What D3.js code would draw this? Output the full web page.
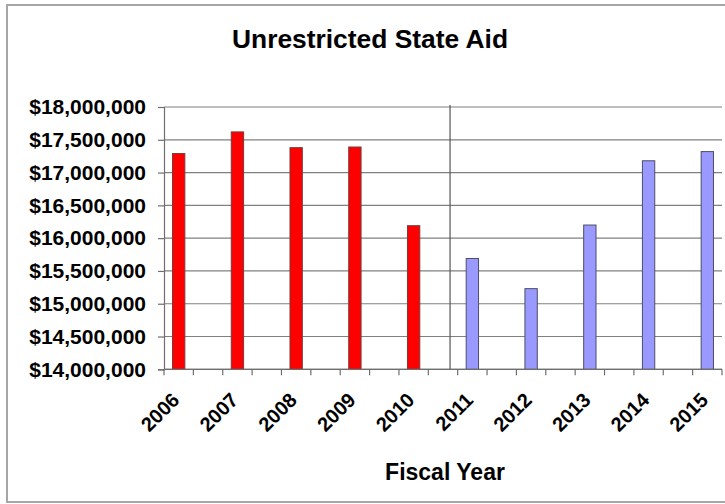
<!DOCTYPE html>
<html>
<head>
<meta charset="utf-8">
<script src="https://cdn.jsdelivr.net/npm/d3@7"></script>
<style>
  html, body { margin: 0; padding: 0; background: #fff; }
  svg { display: block; }
  text { font-family: "Liberation Sans", Arial, sans-serif; font-weight: bold; fill: #000; }
</style>
</head>
<body>
<svg id="chart" width="725" height="504"></svg>
<script>
// ---- data ----
const years = ["2006","2007","2008","2009","2010","2011","2012","2013","2014","2015"];
const aid = [17290000, 17620000, 17380000, 17390000, 16190000, 15690000, 15230000, 16200000, 17180000, 17320000];
const seriesKind = ["actual","actual","actual","actual","actual","projected","projected","projected","projected","projected"];
const yTicks = [14000000, 14500000, 15000000, 15500000, 16000000, 16500000, 17000000, 17500000, 18000000];
const titleText = "Unrestricted  State  Aid";
const xTitle = "Fiscal Year";

// ---- layout ----
const svg = d3.select("#chart");
const W = 725, H = 504;
const plot = { left: 164, right: 722, top: 107, bottom: 369.3 };
const colors = { actual: "#ff0000", projected: "#9999ff" };
const strokes = { actual: "#7a3a3a", projected: "#4d4d66" };

// frame
svg.append("rect").attr("x", 7).attr("y", 5).attr("width", W + 20).attr("height", 497)
  .attr("fill", "#fff").attr("stroke", "#a6a6a6").attr("stroke-width", 2);

const y = d3.scaleLinear().domain([14000000, 18000000]).range([plot.bottom, plot.top]);
const half = (plot.right - plot.left) / 19; // half-step
const x = d3.scalePoint().domain(years).range([plot.left + half / 2, plot.right - half / 2]);
const step = x.step();
const barW = step * 0.21;

// gridlines
svg.append("g").selectAll("line").data(yTicks).join("line")
  .attr("x1", plot.left).attr("x2", plot.right)
  .attr("y1", d => y(d)).attr("y2", d => y(d))
  .attr("stroke", "#808080").attr("stroke-width", 1.2);

// y axis
const fmt = d => "$" + d3.format(",")(d);
const yAxis = d3.axisLeft(y).tickValues(yTicks).tickFormat(fmt).tickSize(6).tickPadding(12);
const gy = svg.append("g").attr("transform", `translate(${plot.left},0)`).call(yAxis);
gy.select(".domain").attr("stroke", "#6e6e6e").attr("stroke-width", 1.2);
gy.selectAll(".tick line").attr("stroke", "#6e6e6e").attr("stroke-width", 1.2);
gy.selectAll(".tick text").attr("font-size", 21).attr("font-family", "Liberation Sans, Arial, sans-serif")
  .attr("font-weight", "bold").attr("fill", "#111");

// separator line between actual and projected
const sepX = x("2010") + step * 0.62;
svg.append("line").attr("x1", sepX).attr("x2", sepX).attr("y1", plot.top - 2).attr("y2", plot.bottom)
  .attr("stroke", "#555").attr("stroke-width", 1.2);

// bars
svg.append("g").selectAll("rect").data(years).join("rect")
  .attr("x", (d) => x(d) - barW / 2)
  .attr("width", barW)
  .attr("y", (d, i) => y(aid[i]))
  .attr("height", (d, i) => y(14000000) - y(aid[i]))
  .attr("fill", (d, i) => colors[seriesKind[i]])
  .attr("stroke", (d, i) => strokes[seriesKind[i]])
  .attr("stroke-width", 1);

// x axis line and ticks
const tickPos = [];
years.forEach(d => { tickPos.push(x(d) - step / 4); tickPos.push(x(d) + step / 4); });
svg.append("line").attr("x1", plot.left).attr("x2", plot.right).attr("y1", plot.bottom).attr("y2", plot.bottom)
  .attr("stroke", "#6e6e6e").attr("stroke-width", 1.2);
svg.append("g").selectAll("line").data(tickPos).join("line")
  .attr("x1", d => d).attr("x2", d => d).attr("y1", plot.bottom).attr("y2", plot.bottom + 6)
  .attr("stroke", "#6e6e6e").attr("stroke-width", 1.2);

// x labels
svg.append("g").selectAll("text").data(years).join("text")
  .attr("transform", d => `translate(${x(d) + 2},${plot.bottom + 32}) rotate(-45)`)
  .attr("text-anchor", "end")
  .attr("font-size", 20)
  .text(d => d);

// titles
svg.append("text").attr("x", 370).attr("y", 48).attr("text-anchor", "middle")
  .attr("font-size", 26).attr("textLength", 276).attr("lengthAdjust", "spacingAndGlyphs")
  .text(titleText);
svg.append("text").attr("x", 445).attr("y", 480).attr("text-anchor", "middle")
  .attr("font-size", 23).text(xTitle);
</script>
</body>
</html>
